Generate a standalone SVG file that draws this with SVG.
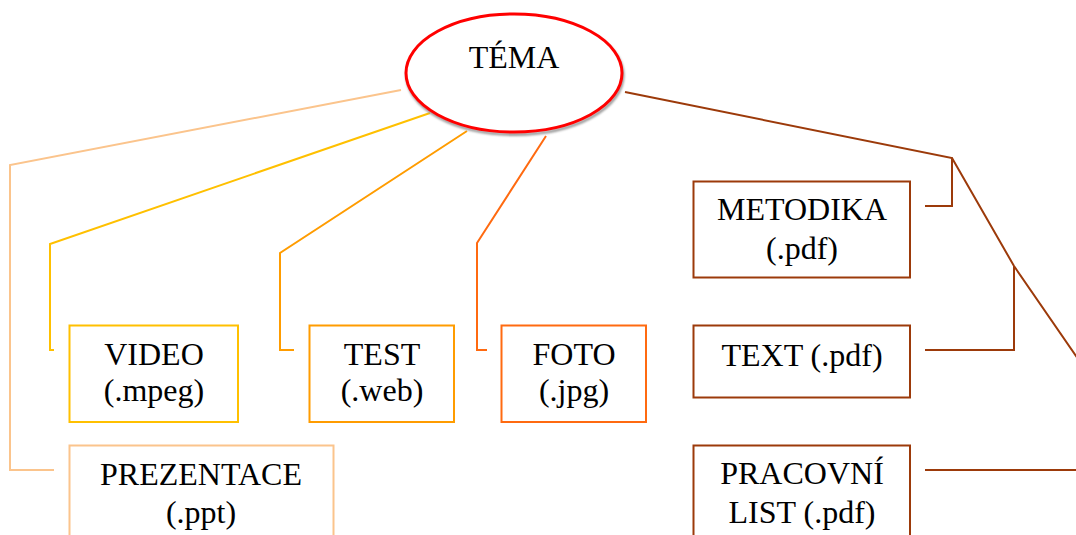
<svg xmlns="http://www.w3.org/2000/svg" width="1076" height="535" viewBox="0 0 1076 535" font-family="'Liberation Serif', 'Times New Roman', Tinos, 'DejaVu Serif', serif">
<style>
text{font-family:'Liberation Serif','Times New Roman',Tinos,'DejaVu Serif',serif;font-size:32px;fill:#000;text-anchor:middle}
.box{fill:#fff;stroke-width:2}
.c{fill:none;stroke-width:2}
.lo{stroke:#FBC48C}
.go{stroke:#FFC000}
.or{stroke:#FF9C00}
.do{stroke:#FF6A10}
.br{stroke:#9C3A0A}
</style>
<defs>
<filter id="sh" x="-10%" y="-10%" width="120%" height="130%"><feGaussianBlur stdDeviation="0.8"/></filter>
</defs>
<g id="connectors">
<polyline class="c lo" points="401,90 10,165 10,470 54,470"/>
<polyline class="c go" points="430,113 50,244 50,350 54,350"/>
<polyline class="c or" points="467,131 280,253 280,350 294,350"/>
<polyline class="c do" points="546,136 477,243 477,350 487,350"/>
<polyline class="c br" points="625,92 952,158 952,206 925,206"/>
<polyline class="c br" points="952,158 1014,266 1078,359"/>
<polyline class="c br" points="1014,266 1014,350 925,350"/>
<polyline class="c br" points="925,470 1078,470"/>
</g>
<g id="tema">
<ellipse cx="515" cy="75.5" rx="108" ry="59" fill="none" stroke="#999" stroke-width="3" filter="url(#sh)"/>
<ellipse cx="514" cy="73" rx="108" ry="59" fill="#fff" stroke="#FF0000" stroke-width="3"/>
<text x="514" y="68">TÉMA</text>
</g>
<g id="video">
<rect class="box go" x="69.5" y="325.5" width="168.5" height="96.5"/>
<text x="154" y="365">VIDEO</text>
<text x="154" y="401">(.mpeg)</text>
</g>
<g id="prezentace">
<rect class="box lo" x="69.5" y="445.5" width="264" height="100"/>
<text x="201" y="485">PREZENTACE</text>
<text x="201" y="523">(.ppt)</text>
</g>
<g id="test">
<rect class="box or" x="309.5" y="325.5" width="144.5" height="96.5"/>
<text x="382" y="365">TEST</text>
<text x="382" y="401">(.web)</text>
</g>
<g id="foto">
<rect class="box do" x="501.5" y="325.5" width="144.5" height="96.5"/>
<text x="574" y="365">FOTO</text>
<text x="574" y="401">(.jpg)</text>
</g>
<g id="metodika">
<rect class="box br" x="693.5" y="181.5" width="216.5" height="96"/>
<text x="802" y="220">METODIKA</text>
<text x="802" y="259">(.pdf)</text>
</g>
<g id="text-node">
<rect class="box br" x="693.5" y="325.5" width="216.5" height="72"/>
<text x="802" y="366">TEXT (.pdf)</text>
</g>
<g id="pracovni">
<rect class="box br" x="693.5" y="445.5" width="216.5" height="100"/>
<text x="802" y="484">PRACOVNÍ</text>
<text x="802" y="523">LIST (.pdf)</text>
</g>
</svg>
